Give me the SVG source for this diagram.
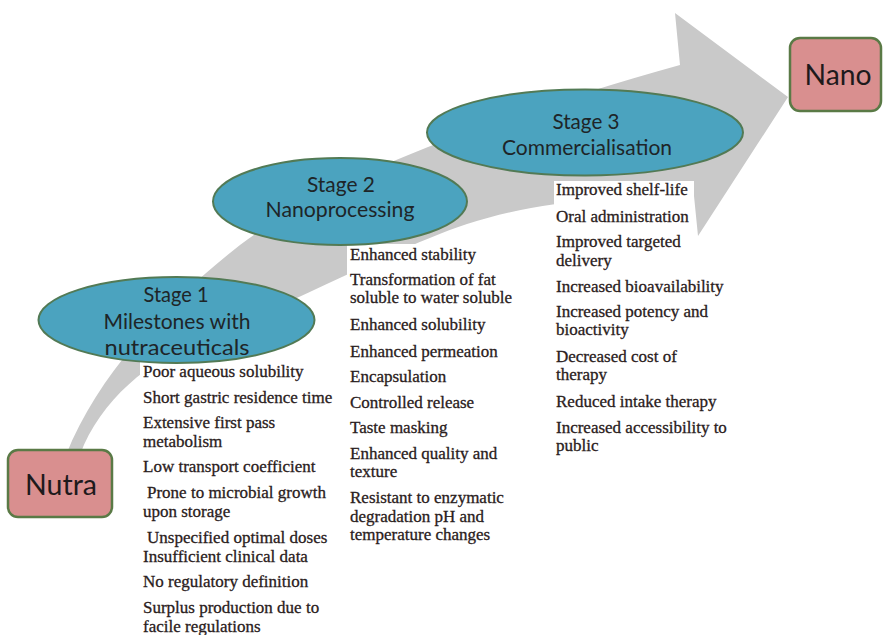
<svg xmlns="http://www.w3.org/2000/svg" width="887" height="635" viewBox="0 0 887 635">
  <style>
    .bg { fill: #ffffff; }
    .flow { fill: #c9c9c9; }
    .panel { fill: #ffffff; }
    .stage { fill: #4ba3bf; stroke: #527a55; stroke-width: 2; }
    .end { fill: #d98f8f; stroke: #5a7a46; stroke-width: 2.5; }
    .title { font-family: Lato, "Liberation Sans", sans-serif; font-size: 22px; fill: #1e2528; text-anchor: middle; }
    .big { font-family: Lato, "Liberation Sans", sans-serif; font-size: 28px; fill: #1e1a1c; text-anchor: middle; }
    .note { font-family: "Liberation Serif", serif; font-size: 17px; fill: #2a2020; stroke: #2a2020; stroke-width: 0.3; }
  </style>

  <rect class="bg" x="0" y="0" width="887" height="635"/>

  <!-- curved progress arrow from Nutra up to Nano -->
  <g id="connectors">
    <path class="flow" d="M66,455 C100,370 170,300 240,245 C320,185 450,130 680,65 L675,13 L788,97 L698,236 L694,196 C620,196 540,200 467,224 C400,246 300,300 200,340 C150,360 100,400 80,455 Z"/>
  </g>

  <!-- text panels listing each stage -->
  <g id="stage1-notes">
    <rect class="panel" x="140" y="362" width="200" height="273"/>
    <text class="note">
      <tspan x="143" y="377">Poor aqueous solubility</tspan>
      <tspan x="143" y="403">Short gastric residence time</tspan>
      <tspan x="143" y="428">Extensive first pass</tspan>
      <tspan x="143" y="447">metabolism</tspan>
      <tspan x="143" y="472">Low transport coefficient</tspan>
      <tspan x="147" y="498">Prone to microbial growth</tspan>
      <tspan x="143" y="517">upon storage</tspan>
      <tspan x="147" y="543">Unspecified optimal doses</tspan>
      <tspan x="143" y="562">Insufficient clinical data</tspan>
      <tspan x="143" y="587">No regulatory definition</tspan>
      <tspan x="143" y="613">Surplus production due to</tspan>
      <tspan x="143" y="632">facile regulations</tspan>
    </text>
  </g>

  <g id="stage2-notes">
    <rect class="panel" x="347" y="244" width="190" height="300"/>
    <text class="note">
      <tspan x="350" y="260">Enhanced stability</tspan>
      <tspan x="350" y="285">Transformation of fat</tspan>
      <tspan x="350" y="303">soluble to water soluble</tspan>
      <tspan x="350" y="330">Enhanced solubility</tspan>
      <tspan x="350" y="357">Enhanced permeation</tspan>
      <tspan x="350" y="382">Encapsulation</tspan>
      <tspan x="350" y="408">Controlled release</tspan>
      <tspan x="350" y="433">Taste masking</tspan>
      <tspan x="350" y="459">Enhanced quality and</tspan>
      <tspan x="350" y="477">texture</tspan>
      <tspan x="350" y="503">Resistant to enzymatic</tspan>
      <tspan x="350" y="522">degradation pH and</tspan>
      <tspan x="350" y="540">temperature changes</tspan>
    </text>
  </g>

  <g id="stage3-notes">
    <rect class="panel" x="554" y="181" width="140" height="280"/>
    <text class="note">
      <tspan x="556" y="195">Improved shelf-life</tspan>
      <tspan x="556" y="222">Oral administration</tspan>
      <tspan x="556" y="247">Improved targeted</tspan>
      <tspan x="556" y="266">delivery</tspan>
      <tspan x="556" y="292">Increased bioavailability</tspan>
      <tspan x="556" y="317">Increased potency and</tspan>
      <tspan x="556" y="335">bioactivity</tspan>
      <tspan x="556" y="362">Decreased cost of</tspan>
      <tspan x="556" y="380">therapy</tspan>
      <tspan x="556" y="407">Reduced intake therapy</tspan>
      <tspan x="556" y="433">Increased accessibility to</tspan>
      <tspan x="556" y="451">public</tspan>
    </text>
  </g>

  <!-- stage ellipses -->
  <g id="stage1">
    <ellipse class="stage" cx="176.5" cy="320" rx="138" ry="43"/>
    <text class="title" x="176" y="302" textLength="65" lengthAdjust="spacingAndGlyphs">Stage 1</text>
    <text class="title" x="177" y="329" textLength="147" lengthAdjust="spacingAndGlyphs">Milestones with</text>
    <text class="title" x="177" y="355" textLength="145" lengthAdjust="spacingAndGlyphs">nutraceuticals</text>
  </g>

  <g id="stage2">
    <ellipse class="stage" cx="340" cy="201.5" rx="127" ry="43.5"/>
    <text class="title" x="341" y="192" textLength="68" lengthAdjust="spacingAndGlyphs">Stage 2</text>
    <text class="title" x="340" y="217" textLength="149" lengthAdjust="spacingAndGlyphs">Nanoprocessing</text>
  </g>

  <g id="stage3">
    <ellipse class="stage" cx="585" cy="132.5" rx="158" ry="43"/>
    <text class="title" x="586" y="129" textLength="67" lengthAdjust="spacingAndGlyphs">Stage 3</text>
    <text class="title" x="587" y="155" textLength="170" lengthAdjust="spacingAndGlyphs">Commercialisation</text>
  </g>

  <!-- end points -->
  <g id="nutra">
    <rect class="end" x="8" y="450" width="104" height="67" rx="10"/>
    <text class="big" x="61" y="495" textLength="72" lengthAdjust="spacingAndGlyphs">Nutra</text>
  </g>

  <g id="nano">
    <rect class="end" x="790" y="38" width="91" height="73" rx="10"/>
    <text class="big" x="838" y="85" textLength="67" lengthAdjust="spacingAndGlyphs">Nano</text>
  </g>
</svg>
